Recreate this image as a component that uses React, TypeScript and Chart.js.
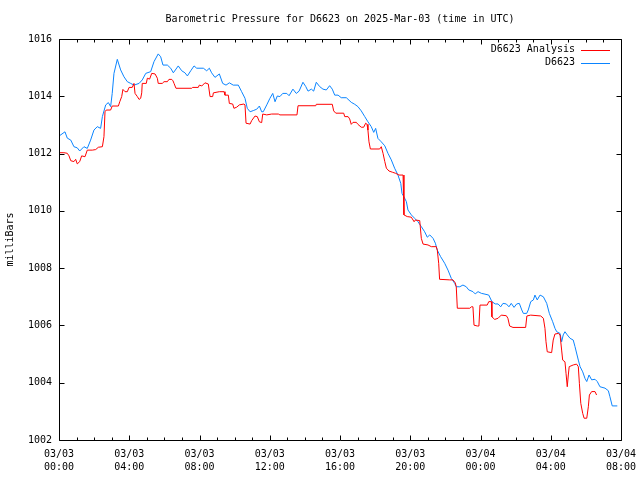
import React, { useEffect, useRef } from "react";
import { Chart, registerables } from "chart.js";

Chart.register(...registerables);

const chartTitle = "Barometric Pressure for D6623 on 2025-Mar-03 (time in UTC)";
const yAxisTitle = "milliBars";
const xTickLabels = [
  ["03/03", "00:00"], ["03/03", "04:00"], ["03/03", "08:00"], ["03/03", "12:00"],
  ["03/03", "16:00"], ["03/03", "20:00"], ["03/04", "00:00"], ["03/04", "04:00"], ["03/04", "08:00"],
];
const yTicks = [1002, 1004, 1006, 1008, 1010, 1012, 1014, 1016];

// [hours since 03/03 00:00 UTC, pressure mb]
const analysisSeries = [
  [0.00,1012.03],[0.28,1012.03],[0.47,1012.01],[0.57,1011.92],[0.67,1011.75],[0.85,1011.72],[0.95,1011.80],
  [1.04,1011.64],[1.18,1011.72],[1.29,1011.92],[1.48,1011.89],[1.61,1012.12],[1.90,1012.12],[2.09,1012.14],
  [2.24,1012.22],[2.47,1012.24],[2.56,1012.59],[2.62,1013.46],[2.69,1013.52],[2.94,1013.52],[3.03,1013.66],
  [3.38,1013.66],[3.46,1013.81],[3.57,1013.99],[3.64,1014.24],[3.76,1014.16],[3.89,1014.16],[3.99,1014.31],
  [4.17,1014.31],[4.27,1014.45],[4.33,1014.10],[4.46,1013.99],[4.56,1013.89],[4.65,1013.93],[4.71,1014.12],
  [4.74,1014.45],[4.97,1014.45],[5.03,1014.63],[5.16,1014.60],[5.28,1014.80],[5.47,1014.78],[5.60,1014.63],
  [5.65,1014.45],[5.88,1014.45],[5.98,1014.51],[6.17,1014.51],[6.26,1014.59],[6.42,1014.59],[6.49,1014.54],
  [6.55,1014.45],[6.66,1014.28],[7.56,1014.28],[7.61,1014.31],[7.93,1014.31],[7.99,1014.39],[8.13,1014.36],
  [8.31,1014.47],[8.50,1014.43],[8.60,1013.99],[8.75,1013.99],[8.79,1014.12],[9.13,1014.16],[9.40,1014.16],
  [9.45,1014.04],[9.64,1014.04],[9.70,1013.75],[9.89,1013.73],[9.96,1013.58],[10.12,1013.62],[10.27,1013.70],
  [10.53,1013.73],[10.59,1013.70],[10.65,1013.06],[10.88,1013.03],[10.97,1013.15],[11.16,1013.31],[11.29,1013.29],
  [11.41,1013.11],[11.54,1013.08],[11.60,1013.38],[11.83,1013.35],[12.11,1013.38],[12.49,1013.38],[12.58,1013.35],
  [13.55,1013.35],[13.61,1013.67],[14.62,1013.67],[14.65,1013.72],[15.56,1013.72],[15.64,1013.49],[15.76,1013.41],
  [16.21,1013.41],[16.27,1013.29],[16.46,1013.29],[16.55,1013.21],[16.64,1013.02],[16.74,1013.09],[16.93,1013.09],
  [17.02,1013.02],[17.21,1012.92],[17.35,1012.92],[17.46,1013.06],[17.54,1013.02],[17.59,1012.82],[17.65,1012.41],
  [17.73,1012.16],[18.26,1012.16],[18.35,1012.24],[18.45,1012.01],[18.55,1011.72],[18.64,1011.49],[18.79,1011.39],
  [18.98,1011.35],[19.17,1011.31],[19.36,1011.25],[19.59,1011.25],[19.64,1009.86],[19.83,1009.80],[20.06,1009.78],
  [20.22,1009.62],[20.29,1009.68],[20.54,1009.66],[20.63,1009.04],[20.73,1008.84],[21.01,1008.81],[21.20,1008.75],
  [21.48,1008.75],[21.54,1008.63],[21.62,1008.17],[21.67,1007.61],[22.25,1007.59],[22.43,1007.59],[22.56,1007.49],
  [22.62,1007.35],[22.68,1006.60],[23.39,1006.60],[23.48,1006.65],[23.57,1006.65],[23.63,1006.01],[23.82,1005.98],
  [23.91,1005.98],[23.97,1006.71],[24.38,1006.71],[24.47,1006.83],[24.62,1006.83],[24.65,1006.30],[24.81,1006.21],
  [25.00,1006.25],[25.18,1006.36],[25.47,1006.34],[25.56,1006.25],[25.66,1005.98],[25.85,1005.93],[26.57,1005.93],
  [26.64,1006.33],[26.86,1006.36],[27.43,1006.33],[27.58,1006.25],[27.67,1005.90],[27.73,1005.43],[27.80,1005.08],
  [28.05,1005.05],[28.14,1005.49],[28.24,1005.70],[28.43,1005.72],[28.53,1005.67],[28.62,1005.14],[28.68,1004.79],
  [28.81,1004.73],[28.87,1004.33],[28.94,1003.86],[29.00,1004.27],[29.05,1004.56],[29.28,1004.62],[29.47,1004.65],
  [29.57,1004.56],[29.63,1003.98],[29.71,1003.28],[29.82,1002.93],[29.90,1002.76],[30.05,1002.76],[30.14,1003.16],
  [30.20,1003.57],[30.33,1003.69],[30.52,1003.69],[30.61,1003.57],
];

const stationSeries = [
  [0.00,1012.61],[0.34,1012.76],[0.47,1012.54],[0.67,1012.47],[0.85,1012.24],[1.04,1012.20],[1.18,1012.09],
  [1.42,1012.24],[1.61,1012.18],[1.80,1012.47],[1.99,1012.82],[2.18,1012.94],[2.37,1012.88],[2.47,1013.29],
  [2.66,1013.70],[2.81,1013.78],[2.94,1013.64],[3.03,1014.10],[3.13,1014.80],[3.32,1015.29],[3.51,1014.92],
  [3.70,1014.68],[3.89,1014.51],[4.08,1014.45],[4.27,1014.39],[4.56,1014.45],[4.74,1014.57],[4.94,1014.80],
  [5.22,1014.86],[5.41,1015.21],[5.65,1015.48],[5.79,1015.38],[5.92,1015.09],[6.17,1015.09],[6.36,1014.98],
  [6.51,1014.82],[6.79,1015.06],[6.99,1014.89],[7.17,1014.82],[7.31,1014.71],[7.50,1014.89],[7.69,1015.06],
  [7.84,1014.98],[8.22,1014.98],[8.41,1014.89],[8.56,1014.98],[8.69,1014.82],[8.88,1014.66],[9.13,1014.78],
  [9.32,1014.45],[9.51,1014.39],[9.70,1014.47],[9.92,1014.39],[10.21,1014.39],[10.40,1014.16],[10.59,1013.93],
  [10.72,1013.58],[10.88,1013.46],[11.06,1013.50],[11.26,1013.55],[11.41,1013.66],[11.54,1013.46],[11.63,1013.46],
  [11.83,1013.70],[12.01,1013.93],[12.17,1014.10],[12.30,1013.81],[12.43,1014.01],[12.58,1013.99],[12.74,1014.10],
  [12.97,1014.10],[13.10,1014.02],[13.32,1014.25],[13.51,1014.10],[13.67,1014.18],[13.89,1014.49],[14.05,1014.34],
  [14.18,1014.18],[14.37,1014.25],[14.50,1014.18],[14.65,1014.49],[14.84,1014.34],[15.03,1014.25],[15.22,1014.22],
  [15.41,1014.37],[15.56,1014.25],[15.70,1014.04],[15.89,1014.04],[16.07,1013.95],[16.36,1013.95],[16.64,1013.79],
  [16.84,1013.72],[17.02,1013.64],[17.21,1013.49],[17.41,1013.29],[17.59,1013.11],[17.78,1012.94],[17.92,1012.74],
  [18.03,1012.88],[18.16,1012.53],[18.35,1012.41],[18.55,1012.27],[18.73,1012.01],[18.92,1011.78],[19.11,1011.49],
  [19.30,1011.25],[19.46,1010.96],[19.53,1010.61],[19.64,1010.49],[19.78,1010.32],[19.87,1010.03],[20.06,1009.86],
  [20.25,1009.74],[20.44,1009.62],[20.63,1009.45],[20.82,1009.27],[20.97,1009.08],[21.11,1009.16],[21.30,1009.04],
  [21.43,1008.87],[21.54,1008.63],[21.73,1008.40],[21.96,1008.17],[22.15,1007.93],[22.34,1007.64],[22.53,1007.47],
  [22.62,1007.35],[22.82,1007.35],[23.00,1007.41],[23.19,1007.35],[23.33,1007.24],[23.57,1007.18],[23.70,1007.10],
  [23.86,1007.18],[24.05,1007.12],[24.20,1007.10],[24.47,1007.06],[24.65,1006.83],[24.84,1006.75],[25.00,1006.75],
  [25.15,1006.65],[25.28,1006.77],[25.47,1006.75],[25.62,1006.65],[25.75,1006.77],[25.91,1006.63],[26.06,1006.75],
  [26.21,1006.77],[26.35,1006.54],[26.44,1006.42],[26.63,1006.42],[26.72,1006.54],[26.86,1006.83],[27.01,1006.89],
  [27.10,1007.06],[27.23,1006.89],[27.39,1007.06],[27.58,1007.00],[27.77,1006.77],[27.92,1006.42],[28.11,1006.13],
  [28.24,1005.90],[28.34,1005.78],[28.53,1005.72],[28.62,1005.43],[28.71,1005.67],[28.81,1005.78],[28.94,1005.67],
  [29.10,1005.55],[29.28,1005.49],[29.38,1005.26],[29.57,1004.79],[29.67,1004.56],[29.82,1004.38],[29.95,1004.15],
  [30.05,1004.04],[30.18,1004.27],[30.33,1004.10],[30.52,1004.12],[30.65,1004.04],[30.80,1003.86],[31.09,1003.81],
  [31.28,1003.72],[31.37,1003.51],[31.50,1003.19],[31.79,1003.19],
];

const FONT = '"DejaVu Sans Mono", "Liberation Mono", monospace';

const gnuplotPlugin = {
  id: "gnuplotFrame",
  afterDraw(chart: any) {
    const { ctx, chartArea } = chart;
    const { left, right, top, bottom } = chartArea;
    const xs = chart.scales.x;
    const ys = chart.scales.y;
    ctx.save();
    ctx.strokeStyle = "#000";
    ctx.lineWidth = 1;
    ctx.beginPath();
    const L = Math.round(left) + 0.5, R = Math.round(right) + 0.5;
    const T = Math.round(top) + 0.5, B = Math.round(bottom) + 0.5;
    ctx.rect(L, T, R - L, B - T);
    for (let h = 0; h <= 32; h += 1) {
      const px = Math.round(xs.getPixelForValue(h)) + 0.5;
      const len = h % 4 === 0 ? 5 : 3;
      ctx.moveTo(px, B); ctx.lineTo(px, B - len);
      ctx.moveTo(px, T); ctx.lineTo(px, T + len);
    }
    yTicks.forEach((v) => {
      const py = Math.round(ys.getPixelForValue(v)) + 0.5;
      ctx.moveTo(L, py); ctx.lineTo(L + 5, py);
      ctx.moveTo(R, py); ctx.lineTo(R - 5, py);
    });
    ctx.stroke();

    ctx.fillStyle = "#000";
    ctx.font = `10px ${FONT}`;
    ctx.textAlign = "center";
    ctx.textBaseline = "middle";
    ctx.fillText(chartTitle, (left + right) / 2, 19);

    chart.data.datasets.forEach((ds: any, i: number) => {
      const y = 49.5 + i * 13;
      ctx.textAlign = "right";
      ctx.fillStyle = "#000";
      ctx.fillText(ds.label, right - 46, y);
      ctx.strokeStyle = ds.borderColor;
      ctx.beginPath();
      ctx.moveTo(right - 40, Math.round(y) + 0.5);
      ctx.lineTo(right - 11, Math.round(y) + 0.5);
      ctx.stroke();
    });
    ctx.restore();
  },
};

export default function App() {
  const ref = useRef<HTMLCanvasElement | null>(null);
  useEffect(() => {
    if (!ref.current) return;
    const chart = new Chart(ref.current, {
      type: "line",
      data: {
        datasets: [
          {
            label: "D6623 Analysis",
            data: analysisSeries.map(([x, y]) => ({ x, y })),
            borderColor: "#ff0000",
            borderWidth: 1,
            pointRadius: 0,
            fill: false,
            tension: 0,
          },
          {
            label: "D6623",
            data: stationSeries.map(([x, y]) => ({ x, y })),
            borderColor: "#0a84ff",
            borderWidth: 1,
            pointRadius: 0,
            fill: false,
            tension: 0,
          },
        ],
      },
      options: {
        responsive: false,
        animation: false,
        devicePixelRatio: 1,
        layout: { padding: { left: 0, right: 19, top: 39, bottom: 0 } },
        plugins: {
          legend: { display: false },
          title: { display: false },
          tooltip: { enabled: false },
        },
        scales: {
          x: {
            type: "linear",
            min: 0,
            max: 32,
            grid: { display: false, drawTicks: false },
            border: { display: false },
            ticks: {
              stepSize: 4,
              autoSkip: false,
              maxRotation: 0,
              padding: 8,
              color: "#000",
              font: { family: FONT, size: 10, lineHeight: 1.3 },
              callback: (v: any) => xTickLabels[Math.round(Number(v) / 4)],
            },
            afterFit: (s: any) => { s.height = 40; s.paddingLeft = 0; s.paddingRight = 0; },
          },
          y: {
            min: 1002,
            max: 1016,
            grid: { display: false, drawTicks: false },
            border: { display: false },
            ticks: {
              stepSize: 2,
              padding: 7,
              color: "#000",
              font: { family: FONT, size: 10 },
              callback: (v: any) => String(v),
            },
            title: {
              display: true,
              text: yAxisTitle,
              color: "#000",
              font: { family: FONT, size: 10 },
              padding: { top: 4, bottom: 0 },
            },
            afterFit: (s: any) => { s.width = 59; s.paddingTop = 0; s.paddingBottom = 0; },
          },
        },
      },
      plugins: [gnuplotPlugin],
    });
    return () => chart.destroy();
  }, []);
  return (
    <div style={{ position: "absolute", left: 0, top: 0, width: 640, height: 480, background: "#fff" }}>
      <canvas ref={ref} width={640} height={480} style={{ display: "block" }} />
    </div>
  );
}
